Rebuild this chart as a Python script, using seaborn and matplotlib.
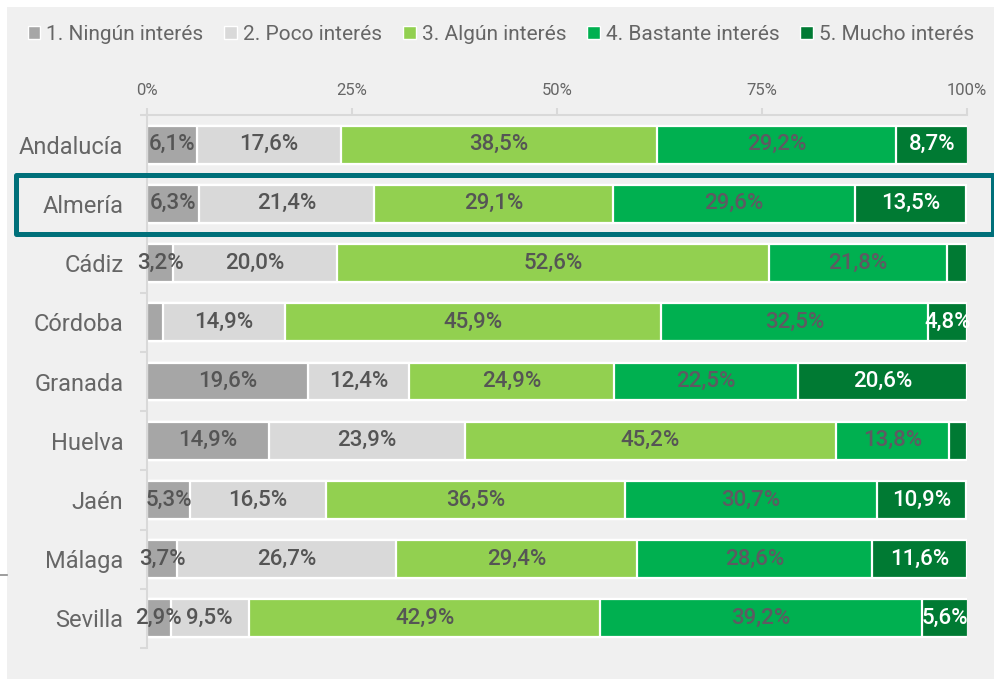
import pandas as pd
import matplotlib.pyplot as plt
import seaborn as sns
from matplotlib.patches import Rectangle, Patch
from matplotlib.lines import Line2D
from matplotlib.ticker import FixedLocator

# Datos: interés por provincia (% de respuestas)
provincias = ["Andalucía", "Almería", "Cádiz", "Córdoba", "Granada",
              "Huelva", "Jaén", "Málaga", "Sevilla"]
niveles = ["1. Ningún interés", "2. Poco interés", "3. Algún interés",
           "4. Bastante interés", "5. Mucho interés"]
ningun = [6.1, 6.3, 3.2, 1.9, 19.6, 14.9, 5.3, 3.7, 2.9]
poco = [17.6, 21.4, 20.0, 14.9, 12.4, 23.9, 16.5, 26.7, 9.5]
algun = [38.5, 29.1, 52.6, 45.9, 24.9, 45.2, 36.5, 29.4, 42.9]
bastante = [29.2, 29.6, 21.8, 32.5, 22.5, 13.8, 30.7, 28.6, 39.2]
mucho = [8.7, 13.5, 2.4, 4.8, 20.6, 2.2, 10.9, 11.6, 5.6]
xticks = [0, 25, 50, 75, 100]

colores = ["#a6a6a6", "#d9d9d9", "#92d050", "#00b050", "#007a33"]
color_texto = ["#555555", "#555555", "#555555", "#5e5a62", "white"]
gris = "#666666"

series = [ningun, poco, algun, bastante, mucho]
df = pd.DataFrame({"provincia": provincias})
acum = [0.0] * len(provincias)
for k, s in enumerate(series):
    acum = [a + v for a, v in zip(acum, s)]
    df[f"cum{k}"] = acum

plt.rcParams["font.family"] = ["Roboto", "DejaVu Sans"]

fig = plt.figure(figsize=(9.94, 6.79), dpi=100, facecolor="white")
fig.add_artist(Rectangle((7 / 994, 0), 1, 1 - 7 / 679, transform=fig.transFigure,
                         facecolor="#f0f0f0", edgecolor="none", zorder=-10))
fig.add_artist(Line2D([0, 7 / 994], [1 - 575 / 679] * 2, transform=fig.transFigure,
                      color="#8c8c8c", lw=1.2))

ax = fig.add_axes([147 / 994, 1 - 648 / 679, 820 / 994, 533 / 679])
ax.set_facecolor("none")

# barras apiladas: se dibujan los acumulados de mayor a menor
for k in range(4, -1, -1):
    sns.barplot(data=df, y="provincia", x=f"cum{k}", order=provincias,
                color=colores[k], saturation=1, orient="h", width=0.64,
                errorbar=None, edgecolor="white", linewidth=1.6, ax=ax)

for i in range(len(provincias)):
    inicio = 0.0
    for k, s in enumerate(series):
        v = s[i]
        if v >= 2.5:
            ax.text(inicio + v / 2, i, f"{v:.1f}".replace(".", ",") + "%",
                    ha="center", va="center", fontsize=16, fontweight="medium",
                    color=color_texto[k])
        inicio += v

ax.set_xlim(0, 100)
ax.set_ylim(len(provincias) - 0.5, -0.5)
ax.set_xlabel("")
ax.set_ylabel("")

ax.xaxis.tick_top()
ax.set_xticks(xticks)
ax.set_xticklabels([f"{t}%" for t in xticks])
ax.tick_params(axis="x", top=True, bottom=False, length=5, width=1.5,
               color="#d9d9d9", pad=7, labelsize=12, labelcolor=gris)
ax.tick_params(axis="y", which="major", length=0, pad=17, labelsize=17,
               labelcolor=gris)
ax.yaxis.set_minor_locator(FixedLocator([i - 0.5 for i in range(len(provincias) + 1)]))
ax.tick_params(axis="y", which="minor", length=5, width=1.5, color="#d9d9d9")

for lado in ["right", "bottom"]:
    ax.spines[lado].set_visible(False)
for lado in ["top", "left"]:
    ax.spines[lado].set_color("#d9d9d9")
    ax.spines[lado].set_linewidth(1.5)

# recuadro resaltando Almería
fig.add_artist(Rectangle((15.5 / 994, 1 - 234 / 679), 977 / 994, 59.5 / 679,
                         transform=fig.transFigure, fill=False,
                         edgecolor="#00707a", linewidth=3.6, joinstyle="round",
                         zorder=10))

handles = [Patch(facecolor=c, edgecolor="white", linewidth=1) for c in colores]
fig.legend(handles, niveles, loc="center", bbox_to_anchor=(0.504, 1 - 34 / 679),
           ncol=5, frameon=False, fontsize=15, labelcolor=gris,
           handlelength=0.6, handleheight=0.6, handletextpad=0.3,
           columnspacing=1.0)

fig.savefig("out.png", dpi=100, facecolor=fig.get_facecolor())
